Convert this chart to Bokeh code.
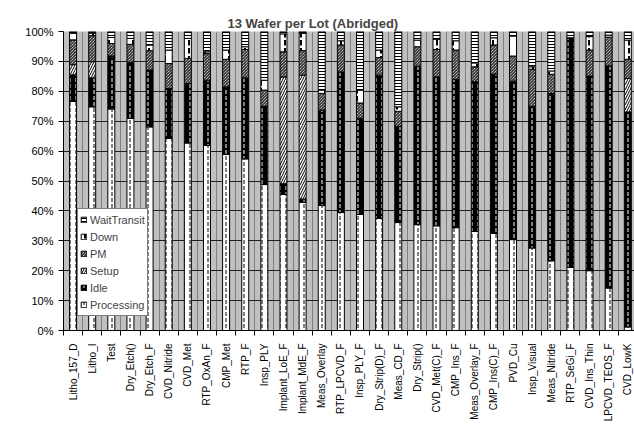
import numpy as np
from bokeh.plotting import figure
from bokeh.models import (ColumnDataSource, Range1d, FixedTicker, PrintfTickFormatter,
                          Legend, LegendItem)
from bokeh.embed import file_html
from bokeh.resources import INLINE

categories = ["Litho_157_D", "Litho_I", "Test", "Dry_Etch()", "Dry_Etch_F", "CVD_Nitride",
              "CVD_Met", "RTP_OxAn_F", "CMP_Met", "RTP_F", "Insp_PLY", "Implant_LoE_F",
              "Implant_MdE_F", "Meas_Overlay", "RTP_LPCVD_F", "Insp_PLY_F", "Dry_Strip(D)_F",
              "Meas_CD_F", "Dry_Strip()", "CVD_Met(C)_F", "CMP_Ins_F", "Meas_Overlay_F",
              "CMP_Ins(C)_F", "PVD_Cu", "Insp_Visual", "Meas_Nitride", "RTP_SeGi_F",
              "CVD_Ins_Thin", "LPCVD_TEOS_F", "CVD_LowK"]

processing = [76.6, 74.8, 74.1, 70.9, 68.1, 64.2, 62.7, 61.9, 58.9, 57.4, 48.8, 45.5,
              42.9, 41.8, 39.5, 38.8, 37.5, 36.1, 35.4, 35.0, 34.4, 33.1, 32.5, 30.4,
              27.6, 23.3, 21.1, 20.0, 14.2, 1.2]
idle = [8.9, 9.7, 17.4, 18.4, 19.0, 16.7, 19.9, 21.8, 22.6, 27.1, 26.2, 3.6,
        1.1, 31.9, 47.0, 32.2, 47.9, 32.2, 53.0, 49.8, 49.6, 50.1, 53.2, 53.0,
        47.4, 56.0, 76.8, 65.1, 74.3, 71.9]
setup = [3.4, 5.4, 0.3, 0.4, 0.0, 0.0, 0.0, 0.0, 0.0, 0.0, 0.0, 35.7,
         41.4, 0.0, 0.0, 0.0, 0.0, 0.0, 0.0, 0.0, 0.0, 0.0, 0.0, 0.0,
         0.0, 0.0, 0.0, 0.0, 0.0, 11.2]
pm = [8.3, 8.7, 4.2, 6.0, 6.5, 8.4, 8.4, 8.9, 9.2, 9.5, 5.4, 8.4,
      8.2, 5.6, 9.0, 5.1, 5.9, 5.0, 6.5, 9.2, 9.8, 5.0, 9.8, 8.4,
      12.4, 6.4, 0.0, 8.7, 9.6, 6.4]
down = [2.2, 0.8, 2.0, 2.0, 1.9, 4.5, 6.7, 0.6, 3.1, 0.9, 3.3, 6.0,
        5.8, 1.1, 1.4, 4.3, 2.5, 1.5, 2.2, 3.4, 3.1, 1.3, 2.4, 6.7,
        0.8, 1.1, 0.0, 4.5, 0.7, 6.4]
wait_transit = [0.6, 0.6, 2.0, 2.3, 4.5, 6.2, 2.3, 6.8, 6.2, 5.1, 16.3, 0.8,
                0.6, 19.6, 3.1, 19.6, 6.2, 25.2, 2.9, 2.6, 3.1, 10.5, 2.1, 1.5,
                11.8, 13.2, 2.1, 1.7, 1.2, 2.9]

series_names = ["Processing", "Idle", "Setup", "PM", "Down", "WaitTransit"]
y_ticks = list(range(0, 101, 10))

FONT = "Liberation Sans"
n = len(categories)
xs = [i + 0.5 for i in range(n)]

source = ColumnDataSource(dict(x=xs, Processing=processing, Idle=idle, Setup=setup,
                               PM=pm, Down=down, WaitTransit=wait_transit))

p = figure(width=634, height=425, output_backend="svg", toolbar_location=None,
           x_range=Range1d(0, 29.85), y_range=Range1d(0, 100),
           min_border_left=63, min_border_right=0, min_border_top=31, min_border_bottom=95)
p.styles = {"outline": "1px solid black", "outline-offset": "-3px"}

p.background_fill_color = "#c0c0c0"
p.border_fill_color = "white"
p.outline_line_color = None

p.title.text = "13 Wafer per Lot (Abridged)"
p.title.text_font = FONT
p.title.text_font_size = "13px"
p.title.text_font_style = "bold"
p.title.align = "left"
p.title.offset = 164
p.title.standoff = 2

renderers = p.vbar_stack(
    series_names, x="x", width=0.366, source=source,
    fill_color=["white", "black", "white", "white", "white", "white"],
    hatch_pattern=[":", ":", "/", "\\", ":", "-"],
    hatch_color=["black", "white", "black", "black", "black", "black"],
    hatch_scale=[6, 6, 5, 3, 8, 3],
    hatch_weight=[1, 1, 1, 1, 2, 1],
    line_color="black", line_width=1,
)

# axes
xt = FixedTicker(ticks=xs, minor_ticks=list(range(0, n + 1)))
p.xaxis.ticker = xt
p.xaxis.major_label_overrides = {x: c for x, c in zip(xs, categories)}
p.xaxis.major_label_orientation = np.pi / 2
p.xaxis.major_tick_out = 0
p.xaxis.major_tick_in = 0
p.xaxis.minor_tick_out = 5
p.xaxis.minor_tick_in = 0
p.xaxis.major_label_standoff = 8
p.xaxis.major_label_text_font = FONT
p.xaxis.major_label_text_font_size = "10px"
p.xaxis.major_label_text_color = "black"
p.xaxis.axis_line_color = "black"
p.xaxis.minor_tick_line_color = "black"

p.yaxis.ticker = FixedTicker(ticks=y_ticks)
p.yaxis.formatter = PrintfTickFormatter(format="%d%%")
p.yaxis.major_tick_out = 5
p.yaxis.major_tick_in = 0
p.yaxis.minor_tick_line_color = None
p.yaxis.major_label_standoff = 5
p.yaxis.major_label_text_font = FONT
p.yaxis.major_label_text_font_size = "11px"
p.yaxis.major_label_text_color = "black"
p.yaxis.axis_line_color = "black"

p.ygrid.grid_line_color = "#202020"
p.ygrid.grid_line_width = 1
p.xgrid.grid_line_color = None
p.xgrid.minor_grid_line_color = "#808080"

items = [LegendItem(label=name, renderers=[r]) for name, r in zip(series_names, renderers)]
legend = Legend(items=list(reversed(items)), location=(14, 14))
legend.border_line_color = "black"
legend.border_line_width = 1
legend.background_fill_color = "white"
legend.background_fill_alpha = 1
legend.label_text_font = FONT
legend.label_text_font_size = "11px"
legend.glyph_width = 7
legend.glyph_height = 7
legend.label_standoff = 3
legend.label_height = 17
legend.spacing = 0
legend.padding = 2
legend.margin = 0
p.add_layout(legend)

open("out.html", "w").write(file_html(p, INLINE))
